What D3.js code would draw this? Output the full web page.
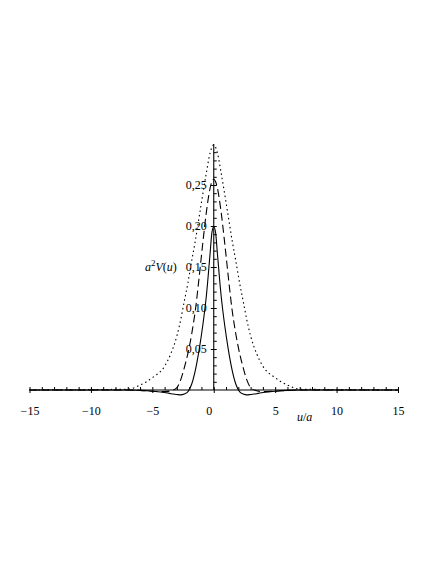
<!DOCTYPE html>
<html>
<head>
<meta charset="utf-8">
<script src="https://cdn.jsdelivr.net/npm/d3@7"></script>
<style>
  body { margin: 0; background: #fff; }
  svg { display: block; }
  .tick text { font-family: "Liberation Serif", "Times New Roman", serif; font-size: 12px; fill: #000; }
  .lbl { font-family: "Liberation Serif", "Times New Roman", serif; font-size: 12px; fill: #000; }
</style>
</head>
<body>
<svg id="chart" width="436" height="564"></svg>
<script>
// abscissa u/a, shared by the three curves
var uVals = [-15, -7, -6, -5, -4, -3.5, -3, -2.7, -2.4, -2.1, -1.8, -1.5, -1.2, -0.9, -0.6, -0.3, -0.15,
  0, 0.15, 0.3, 0.6, 0.9, 1.2, 1.5, 1.8, 2.1, 2.4, 2.7, 3, 3.5, 4, 5, 6, 7, 15];

// a^2 V(u)
var solidVals = [0, 0, -0.0005, -0.0015, -0.003, -0.0045, -0.0055, -0.006, -0.005, -0.002, 0.007, 0.024, 0.048, 0.078, 0.115, 0.166, 0.192,
  0.199, 0.192, 0.166, 0.115, 0.078, 0.048, 0.024, 0.007, -0.002, -0.005, -0.006, -0.0055, -0.0045, -0.003, -0.0015, -0.0005, 0, 0];
var dashVals = [0, 0, -0.0005, -0.0015, -0.002, -0.001, 0.003, 0.012, 0.027, 0.045, 0.068, 0.097, 0.136, 0.178, 0.217, 0.246, 0.254,
  0.257, 0.254, 0.246, 0.217, 0.178, 0.136, 0.097, 0.068, 0.045, 0.027, 0.012, 0.003, -0.001, -0.002, -0.0015, -0.0005, 0, 0];
var dotVals = [0, 0.001, 0.006, 0.015, 0.029, 0.044, 0.066, 0.085, 0.108, 0.131, 0.157, 0.182, 0.210, 0.238, 0.265, 0.289, 0.296,
  0.299, 0.296, 0.289, 0.265, 0.238, 0.210, 0.182, 0.157, 0.131, 0.108, 0.085, 0.066, 0.044, 0.029, 0.015, 0.006, 0.001, 0];

var xTicks = [-15, -10, -5, 0, 5, 10, 15];
var yTicks = [0.05, 0.10, 0.15, 0.20, 0.25];

var svg = d3.select("#chart");

var x = d3.scaleLinear().domain([-15, 15]).range([29.5, 398]);
var y = d3.scaleLinear().domain([0, 0.3]).range([390, 144]);

var xMinor = d3.range(-15, 16, 1);
var yMinor = d3.range(1, 30).map(function(d) { return d / 100; });

// x axis: major ticks down with labels, minor ticks up
svg.append("g")
  .attr("transform", "translate(0," + y(0) + ")")
  .call(d3.axisBottom(x).tickValues(xTicks).tickSize(3).tickPadding(13.5)
    .tickFormat(function(d) { return d3.format("d")(d); }))
  .call(function(g) {
    g.select(".domain").remove();
    g.selectAll(".tick line").attr("stroke", "#000");
    g.selectAll(".tick text").filter(function(d) { return d === 0; }).attr("dx", -5);
  });

svg.append("g")
  .attr("transform", "translate(0," + y(0) + ")")
  .call(d3.axisTop(x).tickValues(xMinor).tickSize(3).tickFormat(""))
  .call(function(g) {
    g.select(".domain").remove();
    g.selectAll(".tick line").attr("stroke", "#000");
  });

// y axis: major ticks left with labels, all ticks right
svg.append("g")
  .attr("transform", "translate(" + x(0) + ",0)")
  .call(d3.axisLeft(y).tickValues(yTicks).tickSize(3).tickPadding(4)
    .tickFormat(function(d) { return d3.format(".2f")(d).replace(".", ","); }))
  .call(function(g) {
    g.select(".domain").remove();
    g.selectAll(".tick line").attr("stroke", "#000");
  });

svg.append("g")
  .attr("transform", "translate(" + x(0) + ",0)")
  .call(d3.axisRight(y).tickValues(yMinor).tickSize(3).tickFormat(""))
  .call(function(g) {
    g.select(".domain").remove();
    g.selectAll(".tick line").attr("stroke", "#000");
  });

// axis lines
svg.append("line")
  .attr("x1", x(-15)).attr("x2", x(15))
  .attr("y1", y(0)).attr("y2", y(0))
  .attr("stroke", "#000").attr("stroke-width", 1.1);
svg.append("line")
  .attr("x1", x(0)).attr("x2", x(0))
  .attr("y1", y(0)).attr("y2", y(0.3))
  .attr("stroke", "#000").attr("stroke-width", 1.1);

var line = d3.line().curve(d3.curveMonotoneX);

function drawCurve(vals, dash) {
  var pts = uVals.map(function(u, i) { return [x(u), y(vals[i])]; });
  svg.append("path")
    .attr("d", line(pts))
    .attr("fill", "none")
    .attr("stroke", "#000")
    .attr("stroke-width", 1.1)
    .attr("stroke-dasharray", dash);
}

drawCurve(dotVals, "1.5,3");
drawCurve(dashVals, "8,4");
drawCurve(solidVals, null);

// axis titles
var yl = svg.append("text").attr("class", "lbl").attr("x", 145).attr("y", 271);
yl.append("tspan").attr("font-style", "italic").text("a");
yl.append("tspan").attr("dy", -5).attr("font-size", "9px").text("2");
yl.append("tspan").attr("dy", 5).attr("font-style", "italic").text("V");
yl.append("tspan").text("(");
yl.append("tspan").attr("font-style", "italic").text("u");
yl.append("tspan").text(")");

var xl = svg.append("text").attr("class", "lbl").attr("x", 297).attr("y", 421);
xl.append("tspan").attr("font-style", "italic").text("u");
xl.append("tspan").text("/");
xl.append("tspan").attr("font-style", "italic").text("a");
</script>
</body>
</html>
